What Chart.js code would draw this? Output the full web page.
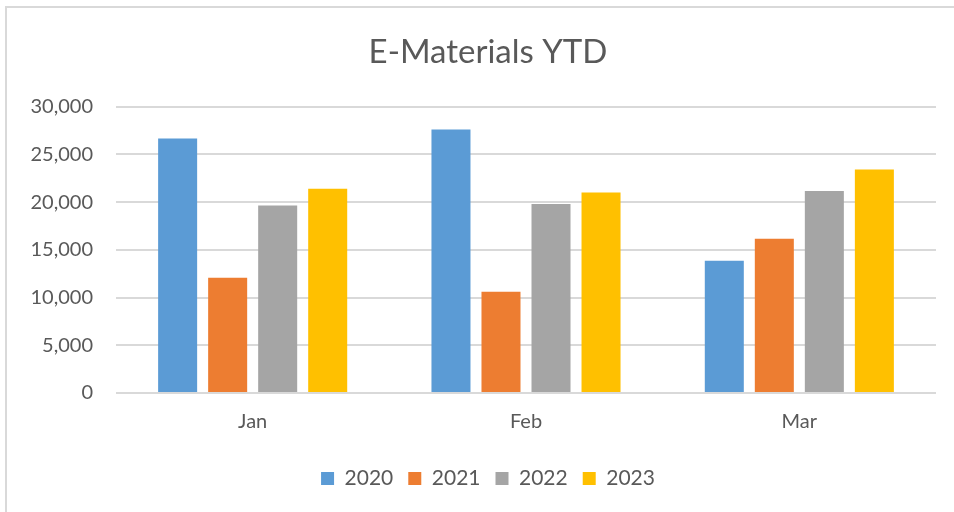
<!DOCTYPE html>
<html>
<head>
<meta charset="utf-8">
<script src="https://cdn.jsdelivr.net/npm/chart.js@4"></script>
<style>
html,body{margin:0;padding:0;background:#fff;}
#wrap{width:954px;height:512px;position:relative;}
</style>
</head>
<body>
<div id="wrap"><canvas id="c" width="954" height="512"></canvas></div>
<script>
const categories = ["Jan", "Feb", "Mar"];
const seriesNames = ["2020", "2021", "2022", "2023"];
const values2020 = [26650, 27600, 13850];
const values2021 = [12070, 10600, 16150];
const values2022 = [19650, 19800, 21150];
const values2023 = [21400, 21000, 23400];
const colors = ["#5B9BD5", "#ED7D31", "#A5A5A5", "#FFC000"];
const yTicks = [0, 5000, 10000, 15000, 20000, 25000, 30000];

const FONT = "Lato, 'Open Sans', sans-serif";
const TEXT = "#595959";

const borderPlugin = {
  id: 'outerBorder',
  beforeDraw(chart) {
    const ctx = chart.ctx;
    ctx.save();
    ctx.fillStyle = '#fff';
    ctx.fillRect(0, 0, chart.width, chart.height);
    ctx.strokeStyle = '#d9d9d9';
    ctx.lineWidth = 2;
    ctx.beginPath();
    ctx.moveTo(6, 512);
    ctx.lineTo(6, 7);
    ctx.lineTo(954, 7);
    ctx.stroke();
    ctx.restore();
  }
};

const allValues = [values2020, values2021, values2022, values2023];
new Chart(document.getElementById('c'), {
  type: 'bar',
  data: {
    labels: categories,
    datasets: seriesNames.map((n, i) => ({
      label: n,
      data: allValues[i],
      backgroundColor: colors[i],
      borderWidth: 0,
      categoryPercentage: 0.732,
      barPercentage: 0.78
    }))
  },
  options: {
    responsive: false,
    animation: false,
    devicePixelRatio: 1,
    layout: { padding: { top: 10, right: 0, bottom: 13, left: 22 } },
    plugins: {
      title: {
        display: true,
        text: "E-Materials YTD",
        color: TEXT,
        font: { family: FONT, size: 33, weight: 'normal' },
        padding: { top: 23, bottom: 34 }
      },
      legend: {
        position: 'bottom',
        labels: {
          color: TEXT,
          font: { family: FONT, size: 21 },
          boxWidth: 13,
          boxHeight: 13,
          padding: 15
        }
      },
      tooltip: { enabled: false }
    },
    scales: {
      x: {
        grid: { display: false, drawTicks: false },
        border: { display: false },
        ticks: { color: TEXT, font: { family: FONT, size: 20 }, padding: 17 },
        afterFit(s) { s.height = 60; }
      },
      y: {
        min: 0, max: 30000,
        afterBuildTicks(s) { s.ticks = yTicks.map(v => ({ value: v })); },
        grid: { color: '#d9d9d9', lineWidth: 2, drawTicks: false },
        border: { display: false },
        ticks: {
          color: TEXT,
          font: { family: FONT, size: 20 },
          padding: 23,
          callback: v => v.toLocaleString('en-US')
        },
        afterFit(s) { s.width = 94; }
      },
      yPad: {
        position: 'right',
        display: true,
        min: 0, max: 1,
        grid: { display: false, drawTicks: false },
        border: { display: false },
        ticks: { display: false },
        afterFit(s) { s.width = 18; }
      }
    }
  },
  plugins: [borderPlugin]
});
</script>
</body>
</html>
